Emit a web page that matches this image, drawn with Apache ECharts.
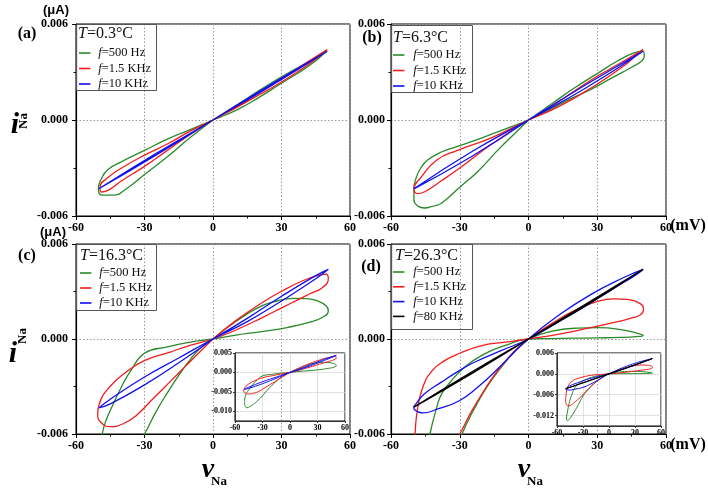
<!DOCTYPE html>
<html><head><meta charset="utf-8">
<script src="https://cdn.jsdelivr.net/npm/echarts@6/dist/echarts.min.js"></script>
<style>html,body{margin:0;padding:0;background:#fff}#c{width:708px;height:490px}</style>
</head><body><div id="c"></div>
<script>
// ---------------- data (v in mV, i in uA) ----------------
const names = ['500 Hz', '1.5 KHz', '10 KHz', '80 KHz'];
const colors = ['#2a8a2a', '#f21c1c', '#1010ee', '#000000'];
const xTicks = [-60, -30, 0, 30, 60];
const mainYTicks = [-0.006, 0, 0.006];
const insetCYTicks = [-0.010, -0.005, 0, 0.005];
const insetDYTicks = [-0.012, -0.006, 0, 0.006];

// (a) T = 0.3 C
const a_500 = [[0,0],[10,0.0009],[20,0.00182],[30,0.0027],[40,0.0035],[46,0.004],[50,0.0043],[49,0.0042],[45,0.0037],[38,0.003],[30,0.0023],[20,0.0014],[10,0.0006],[0,0],
  [-10,-0.0006],[-20,-0.0012],[-30,-0.0019],[-40,-0.0026],[-46,-0.0031],[-49,-0.0037],[-50.2,-0.0043],[-49.8,-0.0046],[-48.3,-0.0047],[-44,-0.0047],[-37,-0.0042],[-30,-0.0034],[-20,-0.0023],[-10,-0.0011],[0,0]];
const a_1k5 = [[0,0],[10,0.00085],[20,0.0017],[30,0.0026],[40,0.0035],[50,0.0044],[46,0.0039],[38,0.0031],[28,0.0022],[18,0.0014],[8,0.0006],[0,0],
  [-10,-0.0007],[-20,-0.0015],[-30,-0.0022],[-40,-0.003],[-46,-0.0036],[-49.5,-0.0042],[-49,-0.0045],[-46,-0.0044],[-40,-0.0038],[-30,-0.0029],[-20,-0.0019],[-10,-0.0009],[0,0]];
const a_10k = [[0,0],[25,0.0022],[50,0.0043],[25,0.0021],[0,0],[-25,-0.0021],[-50,-0.0043],[-25,-0.0022],[0,0]];

// (b) T = 6.3 C
const b_500 = [[0,0],[10,0.001],[20,0.002],[30,0.0029],[39,0.0037],[46,0.0042],[50,0.0043],[50.5,0.004],[49.5,0.0037],[45,0.0033],[36,0.0026],[27,0.0019],[18,0.0013],[10,0.0007],[0,0],
  [-10,-0.00055],[-20,-0.0011],[-30,-0.0016],[-38,-0.002],[-44,-0.0025],[-47,-0.003],[-49,-0.0036],[-50,-0.0043],[-50,-0.005],[-48,-0.0054],[-45.5,-0.0055],[-42,-0.0054],[-38,-0.0052],[-30,-0.0042],[-22,-0.0032],[-13.5,-0.0019],[-5,-0.0007],[0,0]];
const b_1k5 = [[0,0],[12.7,0.0011],[27.3,0.0025],[41.8,0.0037],[50,0.0044],[48,0.0042],[41.8,0.0034],[27.3,0.002],[12.7,0.0008],[0,0],
  [-16,-0.0011],[-31,-0.0019],[-40,-0.0025],[-47,-0.0036],[-50,-0.0043],[-48.4,-0.0046],[-45.5,-0.0045],[-38,-0.0038],[-30,-0.003],[-16,-0.0015],[0,0]];
const b_10k = [[0,0],[25,0.0022],[50,0.0043],[25,0.002],[0,0],[-25,-0.002],[-50,-0.0043],[-25,-0.0023],[0,0]];

// (c) T = 16.3 C
const c_500 = [[0,0],[10,0.0011],[20,0.002],[28,0.0024],[35,0.00257],[41,0.00255],[46,0.0024],[49.5,0.0021],[50.5,0.0018],[48,0.00137],[42,0.00105],[33,0.00074],[22,0.00048],[10,0.00025],[0,0],
  [-10,-0.0002],[-20,-0.0005],[-30,-0.0009],[-36,-0.002],[-40,-0.003],[-44,-0.0042],[-47,-0.0052],[-48.5,-0.006],[-49.5,-0.0072],[-49.5,-0.008],[-48.5,-0.0088],[-47,-0.0091],[-44,-0.0088],[-40,-0.0082],[-35,-0.0072],[-30,-0.006],[-25,-0.0046],[-20,-0.0034],[-15,-0.0023],[-10,-0.0013],[-5,-0.0005],[0,0]];
const c_1k5 = [[0,0],[10,0.00116],[21.8,0.00232],[30.5,0.00305],[39.3,0.00368],[46.6,0.00404],[49.5,0.0041],[50.5,0.0038],[48,0.00326],[42.2,0.00284],[36.4,0.00242],[30.5,0.002],[21.8,0.00137],[10,0.00057],[0,0],
  [-10.4,-0.00042],[-19.1,-0.00084],[-30.1,-0.00137],[-38.1,-0.0021],[-45.4,-0.00305],[-49.8,-0.0041],[-50.5,-0.00474],[-49.1,-0.00526],[-45.1,-0.00554],[-39.6,-0.00537],[-33.7,-0.00484],[-26.4,-0.00379],[-19.1,-0.00274],[-11.8,-0.00168],[-4.5,-0.00063],[0,0]];
const c_10k = [[0,0],[15,0.0013],[30,0.0027],[45,0.004],[50.5,0.0044],[45,0.0038],[30,0.0024],[15,0.0011],[0,0],
  [-15,-0.0012],[-30,-0.0024],[-45,-0.0038],[-50,-0.00435],[-45,-0.0041],[-30,-0.0029],[-15,-0.0015],[0,0]];

// (d) T = 26.3 C
const d_500 = [[0,0],[9.8,0.00048],[21.5,0.00069],[30.2,0.00072],[38.9,0.00063],[47.6,0.00036],[50.1,0.00022],[47,0.00015],[40,0.0001],[30,0.00007],[20,0.00005],[10,0.00003],[0,0],
  [-10,-0.0004],[-20,-0.001],[-28,-0.0018],[-34,-0.0027],[-38,-0.0035],[-40,-0.0043],[-43,-0.006],[-46,-0.0085],[-48,-0.011],[-49,-0.0127],[-48,-0.0134],[-46,-0.0131],[-42,-0.0117],[-37,-0.0096],[-32,-0.0073],[-29,-0.006],[-24,-0.0045],[-18,-0.003],[-12,-0.0018],[-6,-0.0008],[0,0]];
const d_1k5 = [[0,0],[9.8,0.00095],[21.5,0.0019],[30.2,0.00238],[37,0.00254],[43,0.0025],[48,0.0023],[50.2,0.0019],[49,0.00155],[44,0.00128],[36,0.001],[26,0.00068],[14,0.00032],[0,0],
  [-10,-0.0002],[-20,-0.0004],[-30,-0.0009],[-37,-0.0014],[-42,-0.002],[-46,-0.003],[-48.5,-0.0045],[-49.5,-0.006],[-50,-0.0075],[-49,-0.0088],[-47,-0.0092],[-44,-0.009],[-40,-0.0082],[-35,-0.0072],[-30,-0.006],[-25,-0.0046],[-20,-0.0034],[-15,-0.0023],[-10,-0.0014],[-5,-0.0006],[0,0]];
const d_10k = [[0,0],[12.7,0.00145],[27.3,0.00282],[41.8,0.0039],[50,0.0044],[47.5,0.0041],[41.8,0.0036],[27.3,0.0023],[12.7,0.00105],[0,0],
  [-12,-0.00074],[-23.6,-0.00147],[-30.2,-0.002],[-38.2,-0.00274],[-45.5,-0.00347],[-49.1,-0.0041],[-50.1,-0.00432],[-49.1,-0.00453],[-46.2,-0.00467],[-39.6,-0.00442],[-30.2,-0.0039],[-22.2,-0.00305],[-13.5,-0.0019],[-4.9,-0.00063],[0,0]];
const d_80k = [[0,0],[25,0.0022],[50,0.0044],[25,0.0021],[0,0],[-25,-0.0021],[-50,-0.0043],[-25,-0.0022],[0,0]];

// ---------------- layout ----------------
const SERIF = '"Liberation Serif","Times New Roman",serif';
const SANS = '"Liberation Sans",Arial,sans-serif';
const grids = [
  {left:76, top:24, width:274, height:192},
  {left:391, top:24, width:275, height:192},
  {left:76, top:244, width:274, height:190},
  {left:391, top:244, width:275, height:190},
  {left:235, top:353, width:110, height:68},
  {left:557, top:353, width:104, height:73}
].map(g => Object.assign({show:true, borderColor:'#000', borderWidth:1, backgroundColor:'transparent'}, g));

function mainX(gi){
  return {gridIndex:gi, type:'value', min:xTicks[0], max:xTicks[xTicks.length-1], interval:30,
    axisLine:{onZero:false, lineStyle:{color:'#000', width:1.2}},
    axisTick:{length:4, lineStyle:{color:'#000'}},
    minorTick:{show:true, splitNumber:2, length:2.5, lineStyle:{color:'#000'}},
    axisLabel:{fontFamily:SERIF, fontWeight:'bold', fontSize:12, color:'#000', margin:6},
    splitLine:{show:true, lineStyle:{type:[1.5,2], color:'#9a9a9a', width:1}}};
}
function mainY(gi, margin){
  return {gridIndex:gi, type:'value', min:mainYTicks[0], max:mainYTicks[2], interval:0.006,
    axisLine:{onZero:false, lineStyle:{color:'#000', width:1.2}},
    axisTick:{length:4, lineStyle:{color:'#000'}},
    minorTick:{show:true, splitNumber:2, length:2.5, lineStyle:{color:'#000'}},
    axisLabel:{fontFamily:SERIF, fontWeight:'bold', fontSize:12, color:'#000', margin:margin, formatter:v=>v.toFixed(3)},
    splitLine:{show:true, lineStyle:{type:[1.5,2], color:'#9a9a9a', width:1}}};
}
function insetX(gi){
  return {gridIndex:gi, type:'value', min:-60, max:60, interval:30,
    axisLine:{onZero:false, lineStyle:{color:'#333', width:1}},
    axisTick:{length:2, lineStyle:{color:'#333'}},
    axisLabel:{fontFamily:SERIF, fontWeight:'bold', fontSize:8, color:'#000', margin:3},
    splitLine:{show:true, lineStyle:{color:'#d8d8d8', width:0.8}}};
}
function insetY(gi, ticks, min){
  return {gridIndex:gi, type:'value', min:min, max:ticks[ticks.length-1],
    axisLine:{onZero:false, lineStyle:{color:'#333', width:1}},
    axisTick:{length:2, customValues:ticks, lineStyle:{color:'#333'}},
    axisLabel:{fontFamily:SERIF, fontWeight:'bold', fontSize:8, color:'#000', margin:3, customValues:ticks, formatter:v=>v.toFixed(3)},
    splitLine:{show:true, lineStyle:{color:'#d8d8d8', width:0.8}}};
}

function ser(nameIdx, data, gi, w){
  return {type:'line', name:names[nameIdx], xAxisIndex:gi, yAxisIndex:gi, data:data,
    symbol:'none', showSymbol:false, smooth:0.5, clip:true,
    lineStyle:{color:colors[nameIdx], width:w||1.3}, itemStyle:{color:colors[nameIdx]},
    animation:false, silent:true};
}

const series = [
  ser(0,a_500,0), ser(1,a_1k5,0), ser(2,a_10k,0),
  ser(0,b_500,1), ser(1,b_1k5,1), ser(2,b_10k,1),
  ser(0,c_500,2), ser(1,c_1k5,2), ser(2,c_10k,2),
  ser(0,d_500,3), ser(1,d_1k5,3), ser(2,d_10k,3), ser(3,d_80k,3),
  ser(0,c_500,4,1), ser(1,c_1k5,4,1), ser(2,c_10k,4,1),
  ser(0,d_500,5,1), ser(1,d_1k5,5,1), ser(2,d_10k,5,1), ser(3,d_80k,5,1)
];

function legend(left, top, iw, gap, n){
  return {left:left, top:top, orient:'vertical', data:names.slice(0,n), itemWidth:iw, itemGap:gap,
    padding:0, selectedMode:false, icon:'path://M0,0 L10,0 L10,1.4 L0,1.4 Z', itemHeight:1.6,
    formatter:n=>'{i|f}=' + n,
    textStyle:{fontFamily:SERIF, fontSize:12.5, color:'#111', lineHeight:14,
      rich:{i:{fontFamily:SERIF, fontStyle:'italic', fontSize:12.5, lineHeight:14, color:'#111'}}}};
}
const legends = [
  legend(79, 46, 17, 1.5, 3),
  legend(393, 48, 19, 1.5, 3),
  legend(80, 266, 17, 1, 3),
  legend(393, 265, 19, 0.8, 4)
];

function txt(x, y, text, font, opts){
  return Object.assign({type:'text', x:x, y:y, z:100,
    style:{text:text, font:font, fill:'#000', textAlign:'center', textVerticalAlign:'middle'}}, opts||{});
}
function rtxt(x, y, text, size){
  return {type:'text', x:x, y:y, z:100, style:{text:text, fill:'#111', textAlign:'left', textVerticalAlign:'middle',
    font:size+'px '+SERIF, rich:{i:{fontStyle:'italic', fontFamily:SERIF, fontSize:size, fill:'#111'}}}};
}
function box(x, y, w, h){
  return {type:'rect', z:90, shape:{x:x, y:y, width:w, height:h}, style:{fill:'none', stroke:'#555', lineWidth:1}};
}

const graphic = [
  box(76.5, 24.5, 80, 66), box(391.5, 25.5, 81, 67), box(76.5, 244.5, 80, 66), box(391.5, 244.5, 81, 85),
  rtxt(78, 34, '{i|T}=0.3°C', 16), rtxt(393, 38, '{i|T}=6.3°C', 16),
  rtxt(80, 256, '{i|T}=16.3°C', 16), rtxt(395, 256, '{i|T}=26.3°C', 16),
  txt(56, 10.5, '(μA)', 'bold 13px ' + SANS),
  txt(53, 232, '(μA)', 'bold 13px ' + SANS),
  txt(688, 226, '(mV)', 'bold 16px ' + SERIF),
  txt(688, 445, '(mV)', 'bold 16px ' + SERIF),
  txt(27, 34, '(a)', 'bold 16px ' + SERIF),
  txt(372, 38, '(b)', 'bold 16px ' + SERIF),
  txt(27, 256, '(c)', 'bold 16px ' + SERIF),
  txt(371, 267, '(d)', 'bold 16px ' + SERIF),
  txt(15, 125, 'i', 'italic bold 30px ' + SERIF),
  txt(24, 121, 'Na', 'bold 13px ' + SERIF, {rotation: Math.PI/2}),
  txt(13, 354, 'i', 'italic bold 30px ' + SERIF),
  txt(23, 336, 'Na', 'bold 13px ' + SERIF, {rotation: Math.PI/2}),
  txt(208, 470, 'v', 'italic bold 28px ' + SERIF),
  txt(219, 482, 'Na', 'bold 13px ' + SERIF),
  txt(524, 470, 'v', 'italic bold 28px ' + SERIF),
  txt(535, 482, 'Na', 'bold 13px ' + SERIF)
];

const chart = echarts.init(document.getElementById('c'), null, {renderer:'canvas'});
chart.setOption({
  animation:false,
  backgroundColor:'#fff',
  grid:grids,
  xAxis:[mainX(0), mainX(1), mainX(2), mainX(3), insetX(4), insetX(5)],
  yAxis:[mainY(0,8), mainY(1,6), mainY(2,8), mainY(3,6), insetY(4, insetCYTicks, -0.0125), insetY(5, insetDYTicks, -0.015)],
  legend:legends,
  series:series,
  graphic:graphic
});
</script>
</body></html>
